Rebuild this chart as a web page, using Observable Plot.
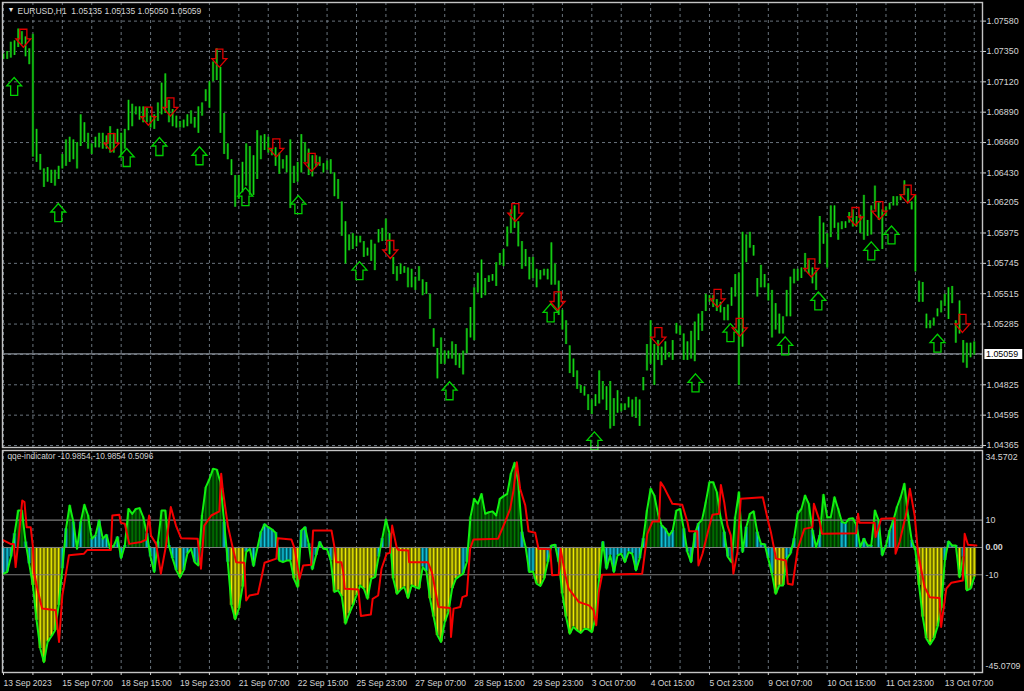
<!DOCTYPE html>
<html>
<head>
<meta charset="utf-8">
<script src="https://cdn.jsdelivr.net/npm/d3@7"></script>
<script src="https://cdn.jsdelivr.net/npm/@observablehq/plot@0.6"></script>
<style>
html,body{margin:0;padding:0;background:#000;}
svg{display:block;}
</style>
</head>
<body>
<div id="chart"></div>
<script>
// Sampled every second hourly bar. Prices are pips above 1.0400.
const barHigh = [333,335,342,343,352,350,346,337,348,276,257,246,247,245,245,248,257,268,270,268,266,287,281,273,265,270,273,273,271,278,273,276,273,276,298,295,293,293,293,292,286,287,296,311,318,298,291,286,282,283,287,290,285,293,296,306,312,327,337,323,288,265,253,241,241,251,265,263,256,275,271,272,270,261,262,258,253,256,268,248,251,272,266,261,256,256,255,250,252,253,243,238,221,206,196,197,195,195,191,186,192,189,200,201,208,197,179,172,174,172,171,170,164,172,162,160,151,125,110,118,108,108,115,113,106,108,125,141,156,167,177,163,165,166,175,182,185,202,215,218,206,191,185,179,179,170,169,170,170,190,174,161,139,131,112,102,93,82,81,75,71,75,93,85,81,85,72,78,68,68,73,71,73,71,88,113,131,113,116,111,115,107,116,129,127,121,115,123,130,136,138,151,150,150,147,145,141,143,156,166,167,198,196,198,188,163,173,166,159,154,144,136,134,154,164,170,170,171,182,177,171,169,210,205,197,218,218,205,206,206,213,215,210,211,226,207,218,233,220,215,217,220,225,225,226,237,231,221,226,161,160,136,131,133,140,146,151,156,157,131,146,116,114,114,115];
const barLow = [329,329,330,332,338,340,331,325,255,251,245,232,236,235,233,238,246,248,251,253,246,263,266,261,257,262,262,261,261,258,258,266,256,261,275,278,287,283,281,281,277,276,282,287,288,281,278,277,277,277,278,280,277,273,286,297,292,312,313,273,257,253,241,217,223,228,233,226,226,238,253,260,258,256,248,242,246,243,216,235,236,243,251,241,240,247,248,243,245,242,225,223,195,174,184,185,187,190,179,180,176,169,190,191,191,181,166,161,166,167,156,156,154,161,150,151,132,111,87,98,98,102,102,97,95,90,106,118,116,152,148,150,160,161,157,173,172,187,197,201,187,170,172,162,163,156,162,165,162,158,158,135,124,113,91,88,79,76,74,63,60,66,68,71,63,49,51,61,62,63,65,58,57,51,78,93,98,82,101,97,101,103,101,121,120,101,101,102,100,116,123,138,145,141,138,137,131,131,142,149,82,111,175,186,180,149,156,156,146,118,124,121,121,134,134,159,161,163,168,166,159,154,174,189,171,194,201,192,200,201,205,202,202,197,192,195,196,215,207,185,210,215,218,218,222,226,220,215,168,145,145,125,125,127,134,137,142,132,144,114,121,99,95,103,105];

// Indicator: fast QQE line, same sampling.
const fastValue = [-9.6,-9,-3.5,5,13.5,13.5,2,-6,-13.9,-26.7,-37,-42,-34.6,-32.6,-30.4,-21.2,-7.8,6.8,15.4,9.3,-0.5,9.3,15.6,11.7,3.2,4.4,9.9,3.2,4.6,-0.5,0.7,3.8,-3.9,0.7,14.1,12.3,14.1,14.4,11.1,5,-3.5,-9,2,13.5,13.5,0.7,-4.1,-8.4,-10.9,-8.4,-2.3,-0.5,-5.4,-6.6,11.7,22,25,28.8,28.5,23.9,9.3,-5.4,-21.2,-26.3,-22.4,-14.5,-1.7,-0.5,-6.8,-0.5,5.6,8.5,7.4,6.6,5.4,-4.8,-5.4,-4.8,-4.8,-11.5,-14.5,6.2,7.4,1.3,-8,-2.9,2,-0.5,-0.7,-4.8,-16.3,-15.7,-18,-27.9,-24.3,-21.2,-17.6,-13.9,-15.1,-18.8,-11.5,-10.9,-3.5,3.2,10.2,5,-11.5,-17,-15.4,-14.5,-18.5,-13.9,-14.5,-15.1,-7.2,-8.8,-18.8,-25.5,-32.2,-34.6,-27.3,-23.7,-15.1,-11.5,-10.5,-9.6,-5.4,11.1,17.8,16,19.6,12.3,12.9,13.2,11.7,17.8,18.8,19.6,27,31,23.9,5.6,0.1,-9,-8.8,-13.3,-14.1,-11.5,-5.4,0.7,1,-5.4,-17,-25.5,-31.6,-29.1,-30.4,-31.3,-29.8,-30,-31,-26,-11.5,2,-7.8,-2.9,-9,-2.9,-2.3,-5.4,-1.7,-2.3,-8.4,-4.1,3.2,13.5,21.5,19,12.3,8,6.8,4.4,6.2,13.5,14.1,6.8,-1.7,-5.4,5,8.7,10.2,16.6,23.9,23.9,20.2,11.1,5.6,-3.5,-5.4,11.1,20.2,-1.7,7.4,12.3,13.2,5.6,1.3,1.2,-4.1,-9.6,-17,-13.9,-13.9,-4.1,-2.3,3.2,12.3,14.1,19,16,6.2,0.1,4.4,19.3,11.1,11.1,18.4,14.1,9.3,8.9,10.5,10.7,8,0.1,3.2,0.7,0.7,13.5,9.9,-2.9,0.7,6.2,9.9,14.8,18.4,23.3,11.7,2.6,-1.1,-13.9,-25.5,-33.4,-35.5,-33.4,-29.1,-22.4,-4.8,2.2,0.7,0.7,-10.9,-3.5,-15.7,-15.1,-10.9];

// Indicator: slow QQE line, read as turning points (position in sampled bars, value).
const slowBar = [0,1.9,2.8,3.3,4.2,5.1,5.7,6.3,7.4,8,8.3,9.2,10.5,14.2,15.1,16,16.9,17.8,21.9,22.8,29.2,29.6,31.5,31.9,33,34.2,37.4,38.7,39.6,40.1,41.5,42.8,44.2,45.5,46.9,48.3,52.8,53.7,54.6,56.5,58.7,59.2,59.6,61,62.4,63.3,65.5,66,66.9,69.2,70.1,71,74.2,74.6,78.3,79.2,80.5,81.5,83.7,84.2,89.2,90.1,90.5,91.9,92.4,92.8,96.5,97.2,99.9,100.4,101.9,102.8,104.2,105.1,105.7,106.9,107.4,110.1,110.3,115.4,116.5,118.3,121.5,121.7,122.4,124.2,124.8,126,126.9,127.8,134.5,136.4,137.8,138.7,139.6,140.5,141.9,142.8,144.6,145.5,148.7,149.2,151,151.5,152.8,153.7,156.5,159.2,160.5,161.2,161.9,162.8,173.7,175.1,176.5,178.3,178.7,179.6,181.9,184.6,186,186.5,188.7,189,190.1,192,192.8,194.6,195.1,196,196.9,197.8,198.5,199.6,200.5,206.5,207.8,208.7,210.1,212.8,213.3,214.6,216,217.8,220,220.4,221.9,222.6,231.9,232.4,232.8,236.9,237.2,238.7,242.4,242.6,243.7,245.5,246.5,247.8,248.7,250.5,251.9,254.6,255,256.4,257.8,260.9,261.4,262.3,264.6];
const slowValue = [2.6,1.3,1.3,-7.2,4.4,17.2,16.6,7.4,7.4,0.1,-9,-15.1,-22.4,-23,-34.6,-17.6,-10.2,-2.9,-2.3,-0.9,-0.9,11.7,12,9,8.7,1.3,2,2.8,11.7,4.4,1.3,-9.6,0.7,14.8,8,3.4,3.2,-7.8,8,11.7,13.2,27,21.5,8,-0.5,-5.4,-5.6,-19.4,-17.6,-17,-11.5,-5.6,-4.1,3.4,2.9,-0.5,-11.5,-6.6,-6.3,6.2,6.2,-0.5,-5.4,-5.4,-9,-15.1,-15.4,-25.1,-24.6,-18.8,-17.6,-7.8,-2.3,-2,8,0.1,-0.9,-1.1,-5.4,-5.4,-9,-21.8,-22.2,-32.8,-22.4,-21.8,-18.2,-17.6,-0.5,2.9,3.2,9.3,14.1,20.9,31.2,21.5,15.4,5.9,5.4,-0.5,-0.7,-10.2,-10,-0.5,-10.2,-15.1,-20,-21.2,-23,-28.5,-16.3,-10,-9.6,5,9.5,9.5,23.9,22.1,16,15.6,9.3,5.9,5.9,-6.6,-2.3,8,12,12.3,22.9,16.6,8,4.4,-9.6,-1.7,17.8,18.4,10.5,5.6,-4.1,-4.8,-13.3,-13.7,-0.5,6.8,7.4,16,9.9,5,5.2,12.3,9,9,3.8,10.5,10.7,-2.3,2,12.3,21.5,11.7,-1.7,-14.5,-18.2,-18.5,-29.1,-15.1,-12.9,-12.1,5,1,0.7];

// Signal arrows: position in sampled bars, pips above 1.0400.
const upBar = [2.9,14.9,33.5,42.4,53.3,65.8,80.2,96.8,121.3,148.8,160.7,188.2,197.7,212.6,221.6,236,241.5,254];
const upPips = [308.5,213,254.7,263,256,225,219,169,78,137,40,84,122,112,146,184,196,114];
const downBar = [5.4,29.4,39.4,45.4,58.7,74.2,83.8,105.2,139.2,150.7,178.1,194.2,200.2,219.7,231.7,238.2,245.9,260.8];
const downPips = [345,266,286,293,330,262,251,185,213,146,119,148,126,171,210,214.5,227,129];

const priceTicks = [1.0758,1.0735,1.0712,1.0689,1.0666,1.0643,1.06205,1.05975,1.05745,1.05515,1.05285,1.04825,1.04595,1.04365];
const priceGrid = [1.0758,1.0735,1.0712,1.0689,1.0666,1.0643,1.06205,1.05975,1.05745,1.05515,1.05285,1.05055,1.04825,1.04595,1.04365];
const lastPrice = 1.05059;
const timeLabels = ["13 Sep 2023","15 Sep 07:00","18 Sep 15:00","19 Sep 23:00","21 Sep 07:00","22 Sep 15:00","25 Sep 23:00","27 Sep 07:00","28 Sep 15:00","29 Sep 23:00","3 Oct 07:00","4 Oct 15:00","5 Oct 23:00","9 Oct 07:00","10 Oct 15:00","11 Oct 23:00","13 Oct 07:00"];
const labelEvery = 16, gridEvery = 8;
const levels = [10, 0, -10];
const indicatorTop = 34.5702, indicatorBottom = -45.0709;

const price = p => 1.04 + p / 10000;
const bars = barHigh.map((h, i) => ({i, high: price(h), low: price(barLow[i])}));
const hist = fastValue.map((v, i) => ({i, v}));
const slow = slowBar.map((b, i) => ({b, v: slowValue[i]}));
const ups = upBar.map((b, i) => ({b, p: price(upPips[i])}));
const downs = downBar.map((b, i) => ({b, p: price(downPips[i])}));
const xDomain = [-0.272, 266.25];
const gridX = d3.range(0, 265, gridEvery);
const labelX = timeLabels.map((_, i) => i * labelEvery);

const upArrow = {draw(c, size) {
  const r = Math.sqrt(size / Math.PI);
  c.moveTo(0, -1.2 * r); c.lineTo(r, -0.07 * r); c.lineTo(0.47 * r, -0.07 * r); c.lineTo(0.47 * r, 1.2 * r);
  c.lineTo(-0.47 * r, 1.2 * r); c.lineTo(-0.47 * r, -0.07 * r); c.lineTo(-r, -0.07 * r); c.closePath();
}};
const downArrow = {draw(c, size) {
  const r = Math.sqrt(size / Math.PI);
  c.moveTo(0, 1.2 * r); c.lineTo(r, 0.07 * r); c.lineTo(0.47 * r, 0.07 * r); c.lineTo(0.47 * r, -1.2 * r);
  c.lineTo(-0.47 * r, -1.2 * r); c.lineTo(-0.47 * r, 0.07 * r); c.lineTo(-r, 0.07 * r); c.closePath();
}};

const FONT = "'Liberation Sans', sans-serif";
const TXT = "#d4d4d4", GRID = "#84909c", FRAME = "#c4c4c4";
const style = {background: "#000", fontFamily: FONT, display: "block", maxWidth: "none", overflow: "visible"};

const main = Plot.plot({
  width: 1024, height: 449,
  marginTop: 2, marginBottom: 2, marginLeft: 2, marginRight: 42,
  style,
  x: {domain: xDomain, axis: null},
  y: {domain: [1.04350, 1.07721], axis: null},
  marks: [
    Plot.ruleY(priceGrid, {stroke: GRID, strokeWidth: 0.8, strokeDasharray: "3,3"}),
    Plot.ruleX(gridX, {stroke: GRID, strokeWidth: 0.8, strokeDasharray: "3,3"}),
    Plot.ruleY([lastPrice], {stroke: "#8a9099", strokeWidth: 1.2}),
    Plot.ruleX(bars, {x: "i", y1: "low", y2: "high", strokeWidth: 2.4, stroke: "#067406"}),
    Plot.ruleX(bars, {x: "i", y1: "low", y2: "high", strokeWidth: 1, stroke: "#1ad81a"}),
    Plot.dot(ups, {x: "b", y: "p", r: 7.5, symbol: upArrow, stroke: "#00d000", strokeWidth: 1.3, fill: "none"}),
    Plot.dot(downs, {x: "b", y: "p", r: 7.5, symbol: downArrow, stroke: "#e00000", strokeWidth: 1.3, fill: "none"}),
    Plot.frame({stroke: FRAME, strokeWidth: 1.4}),
    Plot.axisY({anchor: "right", ticks: priceTicks, tickSize: 3, tickPadding: 1,
      tickFormat: d => d.toFixed(5), fontSize: 8.9, color: TXT}),
    Plot.ruleY([lastPrice], {x1: 266.9, x2: 277.2, stroke: "#fff", strokeWidth: 10}),
    Plot.text([lastPrice], {x: 267.2, y: d => d, text: d => d.toFixed(5), textAnchor: "start",
      fill: "#000", fontSize: 8.9}),
    Plot.text(["▼"], {frameAnchor: "top-left", dx: 5, dy: 5, fill: "#e8e8e8", fontSize: 7, textAnchor: "start"}),
    Plot.text(["EURUSD,H1  1.05135 1.05135 1.05050 1.05059"], {frameAnchor: "top-left", dx: 15, dy: 5,
      fill: TXT, fontSize: 8.5, textAnchor: "start"})
  ]
});

const band = v => v > 10 ? 0 : v < -10 ? 2 : 1;
const baseColors = ["#003f00", "#00707e", "#7a7a00"];
const topColors = ["#007a00", "#14c4dc", "#ecec00"];

const indicator = Plot.plot({
  width: 1024, height: 242,
  marginTop: 1, marginBottom: 19, marginLeft: 2, marginRight: 42,
  style,
  x: {domain: xDomain, axis: null},
  y: {domain: [-45.8, 35.5], axis: null},
  marks: [
    Plot.ruleX(gridX, {stroke: GRID, strokeWidth: 0.8, strokeDasharray: "3,3"}),
    Plot.ruleX(hist, {x: "i", y1: 0, y2: "v", strokeWidth: 3.7, stroke: d => baseColors[band(d.v)]}),
    Plot.ruleX(hist, {x: "i", y1: 0, y2: "v", strokeWidth: 1.2, stroke: d => topColors[band(d.v)]}),
    Plot.ruleY(levels, {stroke: "#7d7d7d", strokeWidth: 1.1}),
    Plot.line(hist, {x: "i", y: "v", stroke: "#10f010", strokeWidth: 2}),
    Plot.line(slow, {x: "b", y: "v", stroke: "#f40000", strokeWidth: 2}),
    Plot.frame({stroke: FRAME, strokeWidth: 1.4}),
    Plot.axisX({anchor: "bottom", ticks: gridX, tickSize: 3, tickFormat: () => null, color: TXT}),
    Plot.text(labelX, {x: d => d, frameAnchor: "bottom", dy: 13.5, text: (d, i) => timeLabels[i],
      textAnchor: "start", fill: TXT, fontSize: 8.5}),
    Plot.text([10, -10], {x: xDomain[1], y: d => d, dx: 3, text: d => String(d), textAnchor: "start", fill: TXT, fontSize: 8.9}),
    Plot.text([0], {x: xDomain[1], y: d => d, dx: 3, text: d => d.toFixed(2), textAnchor: "start", fill: TXT, fontSize: 8.9, fontWeight: 700}),
    Plot.text([indicatorTop], {x: xDomain[1], y: d => d, dx: 3, dy: 4, text: d => d.toFixed(4), textAnchor: "start", fill: TXT, fontSize: 8.9}),
    Plot.text([indicatorBottom], {x: xDomain[1], y: d => d, dx: 3, dy: -4.5, text: d => d.toFixed(4), textAnchor: "start", fill: TXT, fontSize: 8.9}),
    Plot.text(["qqe-indicator -10.9854,-10.9854 0.5096"], {frameAnchor: "top-left", dx: 5, dy: 3,
      fill: TXT, fontSize: 8.3, textAnchor: "start"})
  ]
});

document.getElementById("chart").append(main, indicator);
</script>
</body>
</html>
